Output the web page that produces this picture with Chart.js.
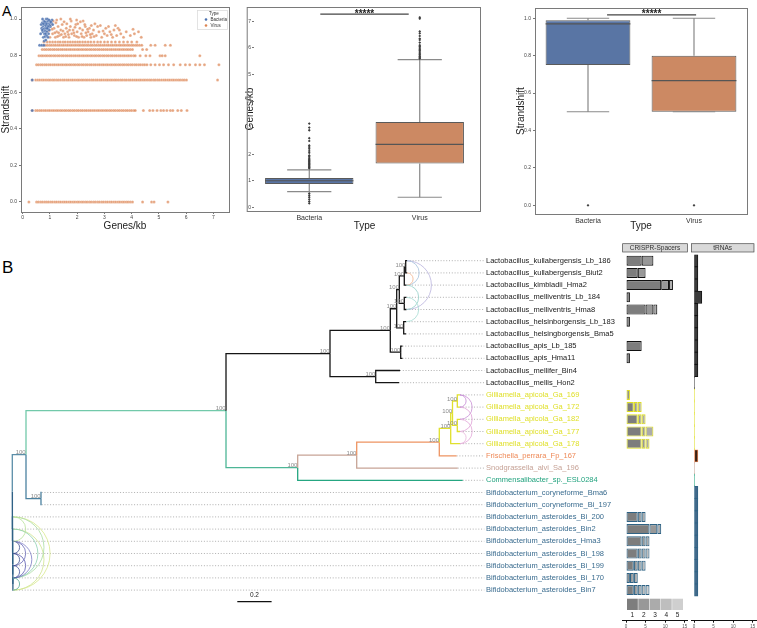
<!DOCTYPE html>
<html>
<head>
<meta charset="utf-8">
<title>Strandshift, gene density and phylogeny</title>
<script src="https://cdn.jsdelivr.net/npm/chart.js@4.4.1/dist/chart.umd.min.js"></script>
<style>
  html, body { margin: 0; padding: 0; background: #fff; }
  body { position: relative; width: 757px; height: 628px; overflow: hidden; font-family: "Liberation Sans", Arial, sans-serif; }
  canvas { position: absolute; }
  .panel-letter { position: absolute; left: 2px; line-height: 1; color: #000; }
</style>
</head>
<body>
<div class="panel-letter" style="top:4px;font-size:14px">A</div>
<div class="panel-letter" style="top:259px;font-size:17px">B</div>
<canvas id="scatterA" width="240" height="232" style="left:0;top:0"></canvas>
<canvas id="genesBox" width="260" height="232" style="left:225px;top:0"></canvas>
<canvas id="strandBox" width="267" height="232" style="left:490px;top:0"></canvas>
<canvas id="tree" width="615" height="393" style="left:0;top:235px"></canvas>
<canvas id="crispr" width="76" height="393" style="left:615px;top:235px"></canvas>
<canvas id="trna" width="66" height="393" style="left:691px;top:235px"></canvas>
<script>
// -------------------------------
// DONNEES - PANEL A
// -------------------------------
const TYPES = ['Bacteria', 'Virus'];

// strandshift levels where virus genomes pile up
const STRAND_LEVELS = [0, 0.5, 0.6667, 0.75, 0.8, 0.8333, 0.8571, 0.875];
const virusStrand0 = [0.23, 0.51, 0.58, 0.66, 0.73, 0.81, 0.88, 0.95, 1.03, 1.1, 1.18, 1.25, 1.33, 1.4, 1.48, 1.55, 1.62, 1.7, 1.77, 1.85, 1.92, 2.0, 2.07, 2.15, 2.22, 2.3, 2.37, 2.45, 2.52, 2.6, 2.67, 2.75, 2.82, 2.9, 2.97, 3.05, 3.12, 3.2, 3.27, 3.35, 3.42, 3.5, 3.57, 3.65, 3.72, 3.8, 3.87, 3.95, 4.03, 4.4, 4.73, 4.82, 5.33];
const virusStrand50 = [0.35, 0.48, 0.55, 0.63, 0.7, 0.78, 0.85, 0.93, 1.0, 1.08, 1.15, 1.23, 1.3, 1.38, 1.45, 1.53, 1.6, 1.68, 1.75, 1.83, 1.9, 1.98, 2.05, 2.13, 2.2, 2.28, 2.35, 2.43, 2.5, 2.58, 2.65, 2.73, 2.8, 2.88, 2.95, 3.03, 3.1, 3.18, 3.25, 3.33, 3.4, 3.48, 3.55, 3.63, 3.7, 3.78, 3.85, 3.93, 4.0, 4.08, 4.13, 4.43, 4.66, 4.78, 4.93, 5.07, 5.17, 5.29, 5.42, 5.51, 5.69, 5.82, 6.03];
const virusStrand67 = [0.35, 0.48, 0.56, 0.63, 0.71, 0.78, 0.86, 0.94, 1.01, 1.09, 1.16, 1.24, 1.31, 1.39, 1.47, 1.54, 1.62, 1.69, 1.77, 1.84, 1.92, 2.0, 2.07, 2.15, 2.22, 2.3, 2.37, 2.45, 2.53, 2.6, 2.68, 2.75, 2.83, 2.9, 2.98, 3.06, 3.13, 3.21, 3.28, 3.36, 3.43, 3.51, 3.59, 3.66, 3.74, 3.81, 3.89, 3.96, 4.04, 4.12, 4.19, 4.27, 4.34, 4.42, 4.49, 4.57, 4.65, 4.72, 4.8, 4.87, 4.95, 5.02, 5.1, 5.18, 5.25, 5.33, 5.4, 5.48, 5.55, 5.63, 5.71, 5.78, 5.86, 5.93, 6.01, 7.15];
const virusStrand75 = [0.51, 0.58, 0.66, 0.73, 0.81, 0.88, 0.96, 1.03, 1.11, 1.18, 1.26, 1.33, 1.41, 1.48, 1.56, 1.63, 1.71, 1.78, 1.86, 1.93, 2.01, 2.08, 2.16, 2.23, 2.31, 2.38, 2.46, 2.53, 2.61, 2.68, 2.76, 2.83, 2.91, 2.98, 3.06, 3.13, 3.21, 3.28, 3.36, 3.43, 3.51, 3.58, 3.66, 3.73, 3.81, 3.88, 3.96, 4.03, 4.11, 4.18, 4.26, 4.33, 4.41, 4.48, 4.56, 4.7, 4.86, 5.02, 5.17, 5.35, 5.54, 5.78, 5.97, 6.13, 6.34, 6.5, 6.67, 7.2];
const virusStrand80 = [0.6, 0.68, 0.75, 0.83, 0.9, 0.98, 1.05, 1.13, 1.2, 1.28, 1.35, 1.43, 1.5, 1.58, 1.65, 1.73, 1.8, 1.88, 1.95, 2.03, 2.1, 2.18, 2.25, 2.33, 2.4, 2.48, 2.55, 2.63, 2.7, 2.78, 2.85, 2.93, 3.0, 3.08, 3.15, 3.23, 3.3, 3.38, 3.45, 3.53, 3.6, 3.68, 3.75, 3.83, 3.9, 3.98, 4.07, 4.13, 4.31, 4.52, 4.67, 5.04, 5.12, 5.23, 6.5];
const virusStrand83 = [0.72, 0.8, 0.87, 0.95, 1.02, 1.1, 1.17, 1.25, 1.32, 1.4, 1.47, 1.55, 1.62, 1.7, 1.77, 1.85, 1.92, 2.0, 2.07, 2.15, 2.22, 2.3, 2.37, 2.45, 2.52, 2.6, 2.67, 2.75, 2.82, 2.9, 2.97, 3.05, 3.12, 3.2, 3.27, 3.35, 3.42, 3.5, 3.57, 3.65, 3.72, 3.8, 3.87, 3.95, 4.03, 4.4, 4.55];
const virusStrand86 = [0.76, 0.84, 0.91, 0.99, 1.06, 1.14, 1.21, 1.29, 1.36, 1.44, 1.51, 1.59, 1.66, 1.74, 1.81, 1.89, 1.96, 2.04, 2.11, 2.19, 2.26, 2.34, 2.41, 2.49, 2.56, 2.64, 2.71, 2.79, 2.86, 2.94, 3.01, 3.09, 3.16, 3.24, 3.31, 3.39, 3.46, 3.54, 3.61, 3.69, 3.76, 3.84, 3.91, 3.99, 4.06, 4.14, 4.21, 4.29, 4.37, 4.7, 4.86, 5.23, 5.42];
const virusStrand88 = [0.78, 0.9, 1.0, 1.1, 1.2, 1.3, 1.38, 1.48, 1.56, 1.66, 1.75, 1.84, 1.93, 2.02, 2.1, 2.2, 2.3, 2.4, 2.5, 2.62, 2.75, 2.86, 3.0, 3.12, 3.26, 3.4, 3.55, 3.7, 3.85, 4.0, 4.19];
const virusCloud = [[1.0,0.9],[1.1,0.92],[1.15,0.95],[1.2,0.9],[1.25,0.93],[1.3,0.96],[1.35,0.91],[1.4,0.94],[1.45,0.97],[1.5,0.9],[1.55,0.92],[1.6,0.95],[1.65,0.93],[1.7,0.9],[1.75,0.96],[1.8,0.92],[1.85,0.94],[1.9,0.91],[1.95,0.97],[2.0,0.93],[2.05,0.9],[2.1,0.95],[2.15,0.92],[2.2,0.94],[2.25,0.9],[2.3,0.96],[2.35,0.91],[2.4,0.93],[2.45,0.95],[2.5,0.9],[2.55,0.92],[2.6,0.94],[2.7,0.91],[2.75,0.96],[2.8,0.93],[2.9,0.9],[3.0,0.92],[3.05,0.95],[3.1,0.91],[3.2,0.93],[3.3,0.9],[3.35,0.94],[3.45,0.91],[3.5,0.95],[3.6,0.92],[3.7,0.9],[3.8,0.93],[3.95,0.91],[4.1,0.92],[4.35,0.9],[1.05,0.97],[1.12,0.99],[1.22,0.98],[1.32,0.925],[1.42,0.915],[1.52,0.985],[1.62,0.975],[1.72,0.94],[1.78,0.99],[1.92,0.955],[2.02,0.975],[2.12,0.985],[2.28,0.97],[2.38,0.945],[2.52,0.965],[2.65,0.975],[2.85,0.965],[3.15,0.96],[3.4,0.965],[3.55,0.94],[4.05,0.945],[4.25,0.93],[0.95,0.935],[1.08,0.945],[1.18,0.925],[1.28,0.905],[1.48,0.935],[1.58,0.905],[1.68,0.915],[1.88,0.925],[1.98,0.905],[2.18,0.905],[2.32,0.925],[2.48,0.915],[2.62,0.905],[2.95,0.935],[3.25,0.915],[1.4,1.0],[1.75,1.0],[1.98,0.995],[2.22,0.99],[1.25,0.995]];
const bacteriaCloud = [[0.72,0.98],[0.75,0.96],[0.78,0.99],[0.8,0.97],[0.82,0.95],[0.84,0.98],[0.86,1.0],[0.88,0.96],[0.9,0.985],[0.92,0.97],[0.94,0.99],[0.96,0.955],[0.98,0.975],[1.0,0.99],[1.02,0.96],[1.05,0.98],[0.7,0.95],[0.74,0.93],[0.77,0.945],[0.8,0.92],[0.83,0.935],[0.86,0.95],[0.89,0.93],[0.92,0.945],[0.95,0.92],[0.98,0.94],[0.76,0.9],[0.82,0.905],[0.88,0.91],[0.93,0.9],[0.68,0.97],[0.73,1.0],[0.85,0.965],[0.91,1.0],[0.97,0.995],[1.08,0.995],[1.1,0.97],[0.79,0.88],[0.85,0.885],[0.66,0.92],[0.62,0.857],[0.7,0.857],[0.78,0.857],[0.35,0.667],[0.35,0.5],[0.87,0.975],[0.81,0.985],[0.76,0.975],[0.99,0.965],[1.03,0.985],[0.93,0.96],[0.9,0.95],[0.84,0.92],[0.72,0.94]];

// boxplots: Genes/kb
const GENES_Q1 = [0.88, 1.65];
const GENES_Q3 = [1.10, 3.21];
const GENES_MEDIAN = [1.0, 2.37];
const GENES_WHISK_LO = [0.59, 0.38];
const GENES_WHISK_HI = [1.41, 5.56];
const GENES_OUT_BACTERIA = [1.47, 1.5, 1.53, 1.56, 1.6, 1.63, 1.66, 1.7, 1.73, 1.76, 1.8, 1.85, 1.9, 1.95, 2.05, 2.12, 2.2, 2.27, 2.33, 2.5, 2.6, 2.9, 3.0, 3.15, 0.52, 0.45, 0.38, 0.3, 0.22, 0.15];
const GENES_OUT_VIRUS = [5.6, 5.63, 5.67, 5.7, 5.75, 5.8, 5.85, 5.9, 5.95, 6.0, 6.05, 6.1, 6.2, 6.3, 6.35, 6.45, 6.55, 6.62, 7.1, 7.15];

// boxplots: Strandshift
const STRAND_Q1 = [0.75, 0.5];
const STRAND_Q3 = [0.99, 0.8];
const STRAND_MEDIAN = [0.97, 0.6667];
const STRAND_WHISK_LO = [0.5, 0.5];
const STRAND_WHISK_HI = [1.0, 1.0];
const STRAND_OUT_BACTERIA = [0];
const STRAND_OUT_VIRUS = [0];

// -------------------------------
// DONNEES - PANEL B (arbre)
// -------------------------------
const TIP_NAMES = [
  'Lactobacillus_kullabergensis_Lb_186', 'Lactobacillus_kullabergensis_Biut2', 'Lactobacillus_kimbladii_Hma2',
  'Lactobacillus_melliventris_Lb_184', 'Lactobacillus_melliventris_Hma8', 'Lactobacillus_helsinborgensis_Lb_183',
  'Lactobacillus_helsingborgensis_Bma5', 'Lactobacillus_apis_Lb_185', 'Lactobacillus_apis_Hma11',
  'Lactobacillus_mellifer_Bin4', 'Lactobacillus_mellis_Hon2',
  'Gilliamella_apicola_Ga_169', 'Gilliamella_apicola_Ga_172', 'Gilliamella_apicola_Ga_182',
  'Gilliamella_apicola_Ga_177', 'Gilliamella_apicola_Ga_178',
  'Frischella_perrara_Fp_167', 'Snodgrassella_alvi_Sa_196', 'Commensalibacter_sp._ESL0284',
  'Bifidobacterium_coryneforme_Bma6', 'Bifidobacterium_coryneforme_Bi_197',
  'Bifidobacterium_asteroides_Bi_200', 'Bifidobacterium_asteroides_Bin2', 'Bifidobacterium_asteroides_Hma3',
  'Bifidobacterium_asteroides_Bi_198', 'Bifidobacterium_asteroides_Bi_199', 'Bifidobacterium_asteroides_Bi_170',
  'Bifidobacterium_asteroides_Bin7'
];
const TIP_CLADE = [
  'Lactobacillus', 'Lactobacillus', 'Lactobacillus', 'Lactobacillus', 'Lactobacillus', 'Lactobacillus',
  'Lactobacillus', 'Lactobacillus', 'Lactobacillus', 'Lactobacillus', 'Lactobacillus',
  'Gilliamella', 'Gilliamella', 'Gilliamella', 'Gilliamella', 'Gilliamella',
  'Frischella', 'Snodgrassella', 'Commensalibacter',
  'BifCor', 'BifCor',
  'Bifidobacterium', 'Bifidobacterium', 'Bifidobacterium', 'Bifidobacterium', 'Bifidobacterium', 'Bifidobacterium', 'Bifidobacterium'
];
// cumulative branch length of each tip
const TIP_DEPTH = [2.3015, 2.3015, 2.2986, 2.2986, 2.2986, 2.2956, 2.2956, 2.2752, 2.2752, 2.2607, 2.2548,
  2.6105, 2.6105, 2.6105, 2.6105, 2.6105, 2.5907, 2.5971, 2.6262, 0.1714, 0.1714,
  0.007, 0.007, 0.007, 0.007, 0.007, 0.007, 0.007];

// internal nodes, children listed before parents
const NODE_IDS = ['L12', 'L13', 'L45', 'L15', 'L67', 'L17', 'L89', 'L19', 'LBH', 'L0',
  'Ga', 'Gc', 'Gb', 'Gd', 'Ge', 'Gf', 'Gg', 'N226', 'Bcor',
  'A6', 'A5', 'A4', 'A3', 'A2', 'A1', 'N26', 'Root'];
const NODE_KIDS = [[0, 1], ['L12', 2], [3, 4], ['L13', 'L45'], [5, 6], ['L15', 'L67'], [7, 8], ['L17', 'L89'], [9, 10], ['L19', 'LBH'],
  [11, 12], [13, 14], ['Ga', 'Gc'], ['Gb', 15], ['Gd', 16], ['Ge', 17], ['Gf', 18], ['L0', 'Gg'], [19, 20],
  [26, 27], [25, 'A6'], [24, 'A5'], [23, 'A4'], [22, 'A3'], [21, 'A2'], ['N226', 'Bcor'], ['N26', 'A1']];
const NODE_DEPTH = [2.2939, 2.2857, 2.2857, 2.2566, 2.2822, 2.2414, 2.2647, 2.2041, 2.1190, 1.8525,
  2.5948, 2.5948, 2.5668, 2.5563, 2.4898, 2.0082, 1.6641, 1.2461, 0.1673,
  0.0035, 0.003, 0.0025, 0.002, 0.0015, 0.001, 0.0799, 0];
const NODE_SUPPORT = [100, 100, 100, 100, 100, 100, 100, 100, 100, 100,
  100, 100, 100, 100, 100, 100, 100, 100, 100,
  null, null, null, null, null, null, 100, null];
const NODE_CLADE = ['Lactobacillus', 'Lactobacillus', 'Lactobacillus', 'Lactobacillus', 'Lactobacillus', 'Lactobacillus', 'Lactobacillus', 'Lactobacillus', 'Lactobacillus', 'Lactobacillus',
  'Gilliamella', 'Gilliamella', 'Gilliamella', 'Gilliamella', 'GF', 'GFS', 'GFSC', 'N226', 'BifCor',
  'Bifidobacterium', 'Bifidobacterium', 'Bifidobacterium', 'Bifidobacterium', 'Bifidobacterium', 'Bifidobacterium', 'RootSide', 'Root'];

// tip-to-tip links (row indices)
const LINK_FROM = [0, 0, 1, 2, 3, 11, 12, 13, 11, 14, 21, 22, 21, 22, 23, 23, 24, 23, 24, 25, 21, 26];
const LINK_TO = [4, 2, 2, 4, 5, 13, 14, 15, 12, 15, 27, 27, 26, 26, 26, 25, 26, 24, 25, 26, 23, 27];

// CRISPR spacers per array (1..5) and tRNA counts, one entry per tip
const SPACERS_ARRAY1 = [4, 3, 9, 1, 5, 1, null, 4, 1, null, null, 1, 2, 3, 4, 4, null, null, null, null, null, 3, 6, 4, 3, 2, 1, 2];
const SPACERS_ARRAY2 = [3, 2, 2, null, 2, null, null, null, null, null, null, null, 1, 1, 1, 1, null, null, null, null, null, 1, 2, 1, 1, 1, 1, 1];
const SPACERS_ARRAY3 = [null, null, 1, null, 1, null, null, null, null, null, null, null, 1, 1, 2, 1, null, null, null, null, null, 1, 1, 1, 1, 1, 1, 1];
const SPACERS_ARRAY4 = [null, null, null, null, null, null, null, null, null, null, null, null, null, null, null, null, null, null, null, null, null, null, null, null, 1, 1, null, 1];
const SPACERS_ARRAY5 = [null, null, null, null, null, null, null, null, null, null, null, null, null, null, null, null, null, null, null, null, null, null, null, null, null, null, null, 1];
const TRNA_COUNT = [1, 1, 1, 2, 1, 1, 1, 1, 1, 1, 0.1, 0.1, 0.1, 0.1, 0.1, 0.1, 1, 0.1, 0.1, 1, 1, 1, 1, 1, 1, 1, 1, 1];

// -------------------------------
// STYLES
// -------------------------------
const FONT = '"Liberation Sans", Arial, sans-serif';
Chart.defaults.font.family = FONT;
const BOX_FILL = ['#5975a4', '#cc8963'];
const EDGE_COLOR = {
  Lactobacillus: '#151515', Gilliamella: '#e0e02c', GF: '#ee9462', GFS: '#c7a496', GFSC: '#4db696',
  Frischella: '#ee9462', Snodgrassella: '#c7a496', Commensalibacter: '#25a681', N226: '#72c9aa',
  BifCor: '#4c82a0', Bifidobacterium: '#2f6186', RootSide: '#5b8ea8', Root: '#2f6186'
};
const LABEL_COLOR = {
  Lactobacillus: '#1a1a1a', Gilliamella: '#e0e02c', Frischella: '#ee8a58', Snodgrassella: '#c6a296',
  Commensalibacter: '#22a37f', BifCor: '#3a6c8f', Bifidobacterium: '#3a6c8f'
};
const BAR_BORDER = {
  Lactobacillus: '#111111', Gilliamella: '#dede22', Frischella: '#ee8a58', Snodgrassella: '#c6a296',
  Commensalibacter: '#22a37f', BifCor: '#2f6385', Bifidobacterium: '#2f6385'
};
const TRNA_FILL = {
  Lactobacillus: '#3c3c3c', Gilliamella: '#dede22', Frischella: '#3a2012', Snodgrassella: '#c6a296',
  Commensalibacter: '#22a37f', BifCor: '#41698a', Bifidobacterium: '#41698a'
};
const LINK_COLORS = ['#b9b3dd', '#a3c0dc', '#f1b48e', '#93cfc8', '#a6dcd3', '#c98fd6', '#dea0d6', '#e2a6d8', '#c488d4', '#e8b6dc',
  '#d8e88c', '#cfe58e', '#a9dca2', '#8ccfb0', '#7d7dc6', '#6a6ab8', '#5b5bb0', '#3f4f8f', '#3f4f8f', '#46559a', '#b9e29c', '#57a894'];
const SEG_FILL = ['#7d7d7d', '#989898', '#ababab', '#bebebe', '#cfcfcf'];

const BASE = { animation: false, responsive: false, devicePixelRatio: 1, events: [] };
const NO_PLUGINS = { legend: { display: false }, tooltip: { enabled: false } };

function seg(x1, y1, x2, y2, color, width, extra) {
  return Object.assign({
    type: 'line', data: [{ x: x1, y: y1 }, { x: x2, y: y2 }], borderColor: color, borderWidth: width,
    pointRadius: 0, fill: false, tension: 0, order: 1
  }, extra || {});
}

function framePlugin(rectFn) {
  return {
    id: 'frame',
    afterDraw(chart) {
      const r = rectFn(chart.chartArea);
      const ctx = chart.ctx;
      ctx.save();
      ctx.strokeStyle = '#7a7a7a';
      ctx.lineWidth = 1;
      ctx.strokeRect(r[0], r[1], r[2], r[3]);
      ctx.restore();
    }
  };
}

// -------------------------------
// A1 : nuage de points
// -------------------------------
const VIRUS_ROWS = [virusStrand0, virusStrand50, virusStrand67, virusStrand75, virusStrand80, virusStrand83, virusStrand86, virusStrand88];
const virusPoints = [];
VIRUS_ROWS.forEach((xs, k) => xs.forEach(x => virusPoints.push({ x: x, y: STRAND_LEVELS[k] })));
virusCloud.forEach(p => virusPoints.push({ x: p[0], y: p[1] }));
const bacteriaPoints = bacteriaCloud.map(p => ({ x: p[0], y: p[1] }));

const scatterLegend = {
  id: 'scatterLegend',
  afterDraw(chart) {
    const { ctx, chartArea: a } = chart;
    const x0 = a.right - 32, y0 = a.top + 3;
    ctx.save();
    ctx.fillStyle = 'rgba(255,255,255,0.9)';
    ctx.fillRect(x0, y0, 30, 19);
    ctx.strokeStyle = '#dcdcdc';
    ctx.lineWidth = 0.8;
    ctx.strokeRect(x0 + 0.5, y0 + 0.5, 30, 19);
    ctx.font = '4.5px ' + FONT;
    ctx.textBaseline = 'middle';
    ctx.fillStyle = '#333';
    ctx.fillText('Type', x0 + 12, y0 + 3.8);
    [['Bacteria', '#4c72b0'], ['Virus', '#dd8452']].forEach((it, i) => {
      const yy = y0 + 9.5 + i * 6;
      ctx.fillStyle = it[1];
      ctx.beginPath();
      ctx.arc(x0 + 9, yy, 1.3, 0, Math.PI * 2);
      ctx.fill();
      ctx.fillStyle = '#333';
      ctx.fillText(it[0], x0 + 13.5, yy);
    });
    ctx.restore();
  }
};

new Chart(document.getElementById('scatterA'), {
  type: 'scatter',
  data: {
    datasets: [
      { label: 'Bacteria', data: bacteriaPoints, pointRadius: 1.5, backgroundColor: 'rgba(76,114,176,0.85)', borderColor: 'rgba(255,255,255,0.5)', borderWidth: 0.4 },
      { label: 'Virus', data: virusPoints, pointRadius: 1.5, backgroundColor: 'rgba(221,132,82,0.72)', borderColor: 'rgba(255,255,255,0.6)', borderWidth: 0.4 }
    ]
  },
  options: Object.assign({}, BASE, {
    layout: { padding: { top: 7, right: 11, left: 0, bottom: 0 } },
    plugins: NO_PLUGINS,
    scales: {
      x: {
        type: 'linear', min: -0.06, max: 7.57,
        afterFit: s => { s.height = 20; },
        border: { display: false },
        grid: { drawOnChartArea: false, tickLength: 2, color: '#777' },
        ticks: { stepSize: 1, includeBounds: false, font: { size: 5 }, color: '#444', padding: 1, maxRotation: 0 },
        title: { display: true, text: 'Genes/kb', font: { size: 10 }, color: '#222', padding: { top: 0, bottom: 0 } }
      },
      y: {
        type: 'linear', min: -0.055, max: 1.066,
        afterFit: s => { s.width = 21; },
        border: { display: false },
        grid: { drawOnChartArea: false, tickLength: 2, color: '#777' },
        ticks: { stepSize: 0.2, includeBounds: false, font: { size: 5 }, color: '#444', padding: 2, callback: v => v.toFixed(1) },
        title: { display: true, text: 'Strandshift', font: { size: 10 }, color: '#222', padding: { top: 0, bottom: 0 } }
      }
    }
  }),
  plugins: [framePlugin(a => [a.left + 0.5, a.top + 0.5, a.right - a.left, a.bottom - a.top]), scatterLegend]
});

// -------------------------------
// A2 / A3 : boites a moustaches
// -------------------------------
function boxChart(id, o) {
  const datasets = [{
    type: 'bar',
    data: TYPES.map((t, i) => ({ x: i, y: [o.q1[i], o.q3[i]] })),
    backgroundColor: BOX_FILL, borderColor: '#5a5a5a', borderWidth: 1, borderSkipped: false,
    barPercentage: 0.8, categoryPercentage: 1, order: 3
  }];
  TYPES.forEach((t, i) => {
    datasets.push(seg(i - 0.4, o.med[i], i + 0.4, o.med[i], '#555', 1.1));
    datasets.push(seg(i, o.q3[i], i, o.hi[i], '#7d7d7d', 1.1));
    datasets.push(seg(i, o.q1[i], i, o.lo[i], '#7d7d7d', 1.1));
    datasets.push(seg(i - 0.2, o.hi[i], i + 0.2, o.hi[i], '#8a8a8a', 1.1));
    datasets.push(seg(i - 0.2, o.lo[i], i + 0.2, o.lo[i], '#8a8a8a', 1.1));
    datasets.push({
      type: 'scatter', data: o.out[i].map(v => ({ x: i, y: v })), pointStyle: 'rectRot',
      pointRadius: 1.4, backgroundColor: '#3c3c3c', borderWidth: 0, order: 0
    });
  });
  datasets.push(seg(o.sig[0], o.sigY, o.sig[1], o.sigY, '#444', 1.4));

  const stars = {
    id: 'stars',
    afterDatasetsDraw(chart) {
      const { ctx, scales: { x, y } } = chart;
      ctx.save();
      ctx.font = 'bold 10px ' + FONT;
      ctx.textAlign = 'center';
      ctx.fillStyle = '#222';
      ctx.fillText('*****', x.getPixelForValue((o.sig[0] + o.sig[1]) / 2), y.getPixelForValue(o.sigY) + 2.5);
      ctx.restore();
    }
  };

  return new Chart(document.getElementById(id), {
    type: 'scatter',
    data: { datasets: datasets },
    options: Object.assign({}, BASE, {
      layout: { padding: o.padding },
      plugins: NO_PLUGINS,
      scales: {
        x: {
          type: 'linear', min: -0.5, max: 1.5, offset: false,
          afterBuildTicks: s => { s.ticks = [{ value: 0 }, { value: 1 }]; },
          afterFit: s => { s.height = o.xH; },
          border: { display: false },
          grid: { display: false, drawTicks: false, offset: false },
          ticks: { font: { size: 7 }, color: '#333', padding: 3, maxRotation: 0, callback: v => TYPES[v] },
          title: { display: true, text: 'Type', font: { size: 10 }, color: '#222', padding: { top: 0, bottom: 0 } }
        },
        y: {
          type: 'linear', min: o.yMin, max: o.yMax,
          afterFit: s => { s.width = o.yW; },
          border: { display: false },
          grid: { drawOnChartArea: false, tickLength: 2, color: '#777' },
          ticks: { stepSize: o.step, includeBounds: false, font: { size: 5 }, color: '#444', padding: o.tickPad, callback: o.fmt },
          title: { display: true, text: o.yTitle, font: { size: 10 }, color: '#222', padding: { top: o.titlePad, bottom: 0 } }
        }
      }
    }),
    plugins: [framePlugin(o.frame), stars]
  });
}

boxChart('genesBox', {
  q1: GENES_Q1, q3: GENES_Q3, med: GENES_MEDIAN, lo: GENES_WHISK_LO, hi: GENES_WHISK_HI,
  out: [GENES_OUT_BACTERIA, GENES_OUT_VIRUS], sig: [0.1, 0.9], sigY: 7.27,
  yMin: -0.14, yMax: 7.54, step: 1, fmt: v => String(v), yTitle: 'Genes/kb',
  padding: { top: 7, right: 10, left: 0, bottom: 0 }, xH: 21, yW: 29, titlePad: 19, tickPad: 1,
  frame: a => [a.left - 7.3 + 0.5, a.top + 0.5, a.right - a.left + 12.3, a.bottom - a.top]
});

boxChart('strandBox', {
  q1: STRAND_Q1, q3: STRAND_Q3, med: STRAND_MEDIAN, lo: STRAND_WHISK_LO, hi: STRAND_WHISK_HI,
  out: [STRAND_OUT_BACTERIA, STRAND_OUT_VIRUS], sig: [0.18, 1.02], sigY: 1.018,
  yMin: -0.0465, yMax: 1.055, step: 0.2, fmt: v => v.toFixed(1), yTitle: 'Strandshift',
  padding: { top: 8, right: 10, left: 0, bottom: 0 }, xH: 18, yW: 45, titlePad: 25, tickPad: 2,
  frame: a => [a.left + 0.5, a.top + 0.5, a.right - a.left, a.bottom - a.top]
});

// -------------------------------
// B : arbre phylogenetique
// -------------------------------
const LEADER_END = 2.752;
const LABEL_DEPTH = 2.762;
const SCALEBAR_START = 1.312;
const SCALEBAR_LEN = 0.2;
const SCALEBAR_ROW = 28.95;

const pos = {};
TIP_NAMES.forEach((n, i) => { pos[i] = { x: TIP_DEPTH[i], y: i + 1 }; });
NODE_IDS.forEach((id, k) => {
  const ys = NODE_KIDS[k].map(c => pos[c].y);
  pos[id] = { x: NODE_DEPTH[k], y: (Math.min(...ys) + Math.max(...ys)) / 2 };
});
function cladeOf(c) {
  return typeof c === 'number' ? TIP_CLADE[c] : NODE_CLADE[NODE_IDS.indexOf(c)];
}

const treeSets = [];
TIP_NAMES.forEach((n, i) => {
  treeSets.push(seg(TIP_DEPTH[i], i + 1, LEADER_END, i + 1, '#9c9c9c', 0.8, { borderDash: [1, 1.8], order: 2 }));
});
NODE_IDS.forEach((id, k) => {
  const p = pos[id];
  NODE_KIDS[k].forEach(c => {
    const q = pos[c];
    treeSets.push({
      type: 'line', data: [{ x: p.x, y: p.y }, { x: p.x, y: q.y }, { x: q.x, y: q.y }],
      borderColor: EDGE_COLOR[cladeOf(c)], borderWidth: 1.3, pointRadius: 0, fill: false, tension: 0, order: 1
    });
  });
});
treeSets.push(seg(SCALEBAR_START, SCALEBAR_ROW, SCALEBAR_START + SCALEBAR_LEN, SCALEBAR_ROW, '#111', 1.3));

const treeDecor = {
  id: 'treeDecor',
  afterDatasetsDraw(chart) {
    const { ctx, scales: { x, y } } = chart;
    ctx.save();
    // liens entre feuilles
    LINK_FROM.forEach((a, k) => {
      const b = LINK_TO[k];
      const px = x.getPixelForValue(Math.max(TIP_DEPTH[a], TIP_DEPTH[b]));
      const ya = y.getPixelForValue(a + 1), yb = y.getPixelForValue(b + 1);
      const r = Math.abs(yb - ya) / 2;
      ctx.beginPath();
      ctx.strokeStyle = LINK_COLORS[k];
      ctx.lineWidth = 0.8;
      ctx.ellipse(px, (ya + yb) / 2, r, r, 0, -Math.PI / 2, Math.PI / 2);
      ctx.stroke();
    });
    // bootstrap
    ctx.font = '6px ' + FONT;
    ctx.fillStyle = '#8a8a8a';
    ctx.textAlign = 'right';
    ctx.textBaseline = 'alphabetic';
    NODE_IDS.forEach((id, k) => {
      if (NODE_SUPPORT[k] == null) return;
      const p = pos[id];
      ctx.fillText(String(NODE_SUPPORT[k]), x.getPixelForValue(p.x) - 0.3, y.getPixelForValue(p.y) - 0.3);
    });
    // noms des feuilles
    ctx.font = '7.5px ' + FONT;
    ctx.textAlign = 'left';
    ctx.textBaseline = 'middle';
    TIP_NAMES.forEach((n, i) => {
      ctx.fillStyle = LABEL_COLOR[TIP_CLADE[i]];
      ctx.fillText(n, x.getPixelForValue(LABEL_DEPTH), y.getPixelForValue(i + 1));
    });
    // echelle
    ctx.font = '6.5px ' + FONT;
    ctx.fillStyle = '#222';
    ctx.textAlign = 'center';
    ctx.textBaseline = 'bottom';
    ctx.fillText(String(SCALEBAR_LEN), x.getPixelForValue(SCALEBAR_START + SCALEBAR_LEN / 2), y.getPixelForValue(SCALEBAR_ROW) - 3);
    ctx.restore();
  }
};

new Chart(document.getElementById('tree'), {
  type: 'scatter',
  data: { datasets: treeSets },
  options: Object.assign({}, BASE, {
    plugins: NO_PLUGINS,
    layout: { padding: 0 },
    scales: {
      x: { type: 'linear', display: false, min: -0.0717, max: 3.5143 },
      y: { type: 'linear', display: false, reverse: true, min: -1.1066, max: 31.1066 }
    }
  }),
  plugins: [treeDecor]
});

// -------------------------------
// B : CRISPR-Spacers et tRNAs
// -------------------------------
function stripHeader(text, widthFn) {
  return {
    id: 'strip',
    afterDraw(chart) {
      const { ctx, chartArea: a } = chart;
      const w = widthFn(a);
      ctx.save();
      ctx.fillStyle = '#d9d9d9';
      ctx.fillRect(a.left, a.top - 10.9, w, 8.3);
      ctx.strokeStyle = '#4d4d4d';
      ctx.lineWidth = 0.7;
      ctx.strokeRect(a.left + 0.35, a.top - 10.9, w - 0.7, 8.3);
      ctx.fillStyle = '#333';
      ctx.font = '6.5px ' + FONT;
      ctx.textAlign = 'center';
      ctx.textBaseline = 'middle';
      ctx.fillText(text, a.left + w / 2, a.top - 6.7);
      ctx.restore();
    }
  };
}

const spacerLegend = {
  id: 'spacerLegend',
  afterDatasetsDraw(chart) {
    const { ctx, chartArea: a } = chart;
    ctx.save();
    ctx.font = '6.5px ' + FONT;
    ctx.textAlign = 'center';
    ctx.textBaseline = 'middle';
    SEG_FILL.forEach((c, k) => {
      const left = a.left + 4.7 + k * 11.3;
      ctx.fillStyle = c;
      ctx.fillRect(left, a.bottom - 22, 10.8, 11.3);
      ctx.fillStyle = '#222';
      ctx.fillText(String(k + 1), left + 5.4, a.bottom - 5.5);
    });
    ctx.restore();
  }
};

function rowAxis() {
  return { type: 'linear', display: false, reverse: true, min: 0.5, max: 30.508, stacked: true, offset: false, grid: { offset: false } };
}
function countAxis(min, max) {
  return {
    type: 'linear', min: min, max: max, stacked: true,
    afterFit: s => { s.height = 7.3; },
    border: { display: true, color: '#111', width: 1 },
    grid: { drawOnChartArea: false, tickLength: 2, color: '#111' },
    ticks: { stepSize: 5, includeBounds: false, font: { size: 4.5 }, color: '#555', padding: 1, maxRotation: 0 }
  };
}

const SPACER_ARRAYS = [SPACERS_ARRAY1, SPACERS_ARRAY2, SPACERS_ARRAY3, SPACERS_ARRAY4, SPACERS_ARRAY5];
const spacerSets = SPACER_ARRAYS.map((arr, k) => {
  const rows = [];
  arr.forEach((v, i) => { if (v != null) rows.push(i); });
  return {
    type: 'bar', label: 'array ' + (k + 1),
    data: rows.map(i => ({ x: arr[i], y: i + 1 })),
    backgroundColor: SEG_FILL[k],
    borderColor: rows.map(i => BAR_BORDER[TIP_CLADE[i]]),
    borderWidth: 1.1, borderSkipped: false, barPercentage: 0.82, categoryPercentage: 1
  };
});

new Chart(document.getElementById('crispr'), {
  type: 'bar',
  data: { datasets: spacerSets },
  options: Object.assign({}, BASE, {
    indexAxis: 'y',
    plugins: NO_PLUGINS,
    layout: { padding: { left: 7.3, right: 3.3, top: 19.6, bottom: 0 } },
    scales: { x: countAxis(-0.95, 15.77), y: rowAxis() }
  }),
  plugins: [stripHeader('CRISPR-Spacers', a => a.right - a.left), spacerLegend]
});

new Chart(document.getElementById('trna'), {
  type: 'bar',
  data: {
    datasets: [{
      type: 'bar', label: 'tRNAs',
      data: TRNA_COUNT.map((v, i) => ({ x: v, y: i + 1 })),
      backgroundColor: TIP_CLADE.map(c => TRNA_FILL[c]),
      borderColor: TIP_CLADE.map(c => BAR_BORDER[c]),
      borderWidth: 0.9, borderSkipped: false, barPercentage: 1, categoryPercentage: 1
    }]
  },
  options: Object.assign({}, BASE, {
    indexAxis: 'y',
    plugins: NO_PLUGINS,
    layout: { padding: { left: 0, right: 0, top: 19.6, bottom: 0 } },
    scales: { x: countAxis(-0.767, 16.1), y: rowAxis() }
  }),
  plugins: [stripHeader('tRNAs', a => 63.3)]
});
</script>
</body>
</html>
